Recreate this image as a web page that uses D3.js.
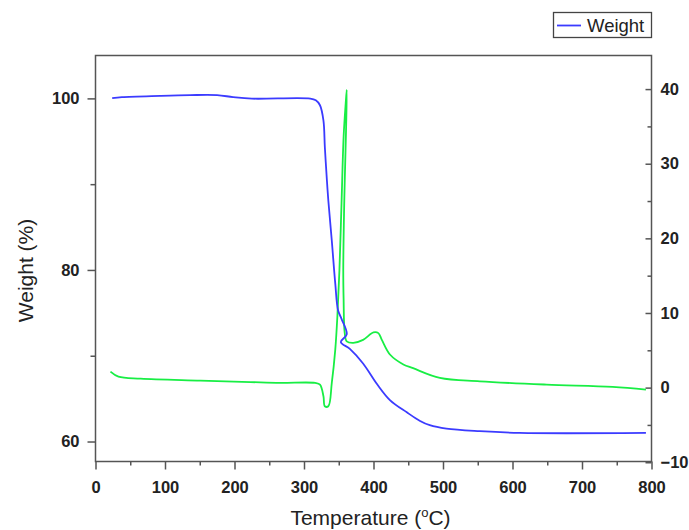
<!DOCTYPE html>
<html>
<head>
<meta charset="utf-8">
<script src="https://cdn.jsdelivr.net/npm/d3@7/dist/d3.min.js"></script>
<style>
  html, body { margin: 0; padding: 0; background: #fff; }
  svg { display: block; font-family: Arial, "Liberation Sans", sans-serif; }
</style>
</head>
<body>
<svg id="chart" width="689" height="530"></svg>
<script>
// ---- data ----
const weightTemp = [24, 38, 93, 136, 175, 198, 225, 309, 317, 323, 328, 330, 333, 335, 340, 345, 349, 354, 361.5, 353, 366, 385, 405, 424, 448, 467, 481, 505, 553, 610, 792];
const weightVal  = [100.03, 100.15, 100.3, 100.38, 100.38, 100.15, 99.97, 99.97, 99.77, 99.2, 97.4, 94.3, 90.4, 88.1, 83.4, 78.4, 75.3, 74.3, 72.5, 71.6, 70.8, 69.1, 66.7, 64.8, 63.4, 62.4, 61.9, 61.5, 61.2, 61.0, 61.0];

const dtaTemp = [21.5, 33, 65, 151, 223, 266, 316, 323, 328, 330, 335, 340, 345, 348, 351, 354, 357, 360, 361.5, 360.5, 358, 356.5, 357, 358.5, 361.5, 371, 385, 400, 407, 412, 424, 443, 457, 495.5, 553, 649, 744, 792];
const dtaVal  = [2.14, 1.47, 1.2, 0.94, 0.74, 0.63, 0.63, 0.4, -1.16, -2.5, -2.5, 0.63, 5.1, 9.5, 15.8, 24.7, 33.6, 38.1, 39.9, 34.5, 25.2, 15.8, 11.8, 7.4, 6.2, 6.0, 6.4, 7.4, 7.3, 6.4, 4.4, 3.1, 2.6, 1.3, 0.84, 0.4, 0.09, -0.27];

const xTicks = [0, 100, 200, 300, 400, 500, 600, 700, 800];
const xMinor = [50, 150, 250, 350, 450, 550, 650, 750];
const yLeftTicks = [60, 80, 100];
const yLeftMinor = [70, 90];
const yRightTicks = [-10, 0, 10, 20, 30, 40];
const yRightMinor = [-5, 5, 15, 25, 35];
const legendLabel = "Weight";

// ---- layout ----
const svg = d3.select("#chart");
const L = 95.5, R = 651.5, T = 55.5, B = 461.5;
const axisColor = "#555";
const blue = "#3b3bff", green = "#18ee44";

const x = d3.scaleLinear().domain([0, 800]).range([L, R]);
const yL = d3.scaleLinear().domain([57.67, 105.0]).range([B, T]);
const yR = d3.scaleLinear().domain([-9.9, 44.5]).range([B, T]);

// frame
svg.append("rect").attr("x", L).attr("y", T).attr("width", R - L).attr("height", B - T)
  .attr("fill", "none").attr("stroke", axisColor).attr("stroke-width", 1.5);

function styleAxis(g) {
  g.attr("font-size", 17).attr("font-family", "Arial, 'Liberation Sans', sans-serif");
  g.select(".domain").remove();
  g.selectAll(".tick line").attr("stroke", axisColor).attr("stroke-width", 1.5);
  g.selectAll(".tick text").attr("fill", "#222").attr("font-weight", "bold").style("font-size", "16.5px");
}

// bottom axis
const gx = svg.append("g").attr("transform", `translate(0,${B})`)
  .call(d3.axisBottom(x).tickValues(xTicks).tickSize(8).tickPadding(12).tickFormat(d3.format("d")));
styleAxis(gx);
const gxm = svg.append("g").attr("transform", `translate(0,${B})`)
  .call(d3.axisBottom(x).tickValues(xMinor).tickSize(4).tickFormat(""));
styleAxis(gxm);

// left axis
const gyl = svg.append("g").attr("transform", `translate(${L},0)`)
  .call(d3.axisLeft(yL).tickValues(yLeftTicks).tickSize(8).tickPadding(8).tickFormat(d3.format("d")));
styleAxis(gyl);
const gylm = svg.append("g").attr("transform", `translate(${L},0)`)
  .call(d3.axisLeft(yL).tickValues(yLeftMinor).tickSize(5).tickFormat(""));
styleAxis(gylm);

// right axis (ticks inward)
const gyr = svg.append("g").attr("transform", `translate(${R},0)`)
  .call(d3.axisRight(yR).tickValues(yRightTicks).tickSize(-6).tickPadding(9).tickFormat(d3.format("d")));
styleAxis(gyr);
const gyrm = svg.append("g").attr("transform", `translate(${R},0)`)
  .call(d3.axisRight(yR).tickValues(yRightMinor).tickSize(-4).tickFormat(""));
styleAxis(gyrm);

// curves
const wData = weightTemp.map((t, i) => [t, weightVal[i]]);
const dData = dtaTemp.map((t, i) => [t, dtaVal[i]]);

svg.append("path").datum(dData)
  .attr("d", d3.line().x(d => x(d[0])).y(d => yR(d[1])).curve(d3.curveCatmullRom.alpha(0.5)))
  .attr("fill", "none").attr("stroke", green).attr("stroke-width", 1.8);

svg.append("path").datum(wData)
  .attr("d", d3.line().x(d => x(d[0])).y(d => yL(d[1])).curve(d3.curveCatmullRom.alpha(0.5)))
  .attr("fill", "none").attr("stroke", blue).attr("stroke-width", 1.8);

// axis titles
svg.append("text").attr("transform", `translate(33,${(T + B) / 2 + 12}) rotate(-90)`)
  .attr("text-anchor", "middle").attr("font-size", 21).attr("fill", "#222").text("Weight (%)");

const xt = svg.append("text").attr("x", (L + R) / 2 - 3).attr("y", 525)
  .attr("text-anchor", "middle").attr("font-size", 21).attr("fill", "#222");
xt.append("tspan").text("Temperature (");
xt.append("tspan").attr("font-size", 13).attr("dy", -8).text("o");
xt.append("tspan").attr("dy", 8).text("C)");

// legend
const lg = svg.append("g");
lg.append("rect").attr("x", 553.5).attr("y", 12.5).attr("width", 98).attr("height", 25)
  .attr("fill", "#fff").attr("stroke", "#444").attr("stroke-width", 1.3);
lg.append("line").attr("x1", 557).attr("x2", 581).attr("y1", 25.5).attr("y2", 25.5)
  .attr("stroke", blue).attr("stroke-width", 1.8);
lg.append("text").attr("x", 587).attr("y", 32).attr("font-size", 18.5).attr("fill", "#222").text(legendLabel);
</script>
</body>
</html>
